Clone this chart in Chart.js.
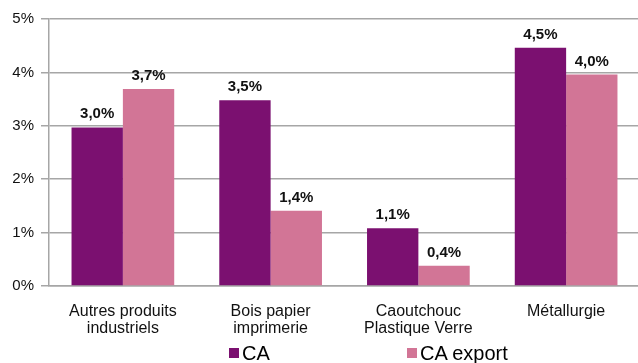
<!DOCTYPE html>
<html>
<head>
<meta charset="utf-8">
<script src="https://cdn.jsdelivr.net/npm/chart.js@4.4.1/dist/chart.umd.min.js"></script>
<style>
  html, body { margin:0; padding:0; background:#fff; width:638px; height:363px; overflow:hidden; }
  #wrap { position:absolute; left:0; top:0; width:642px; height:363px; }
  .leg { position:absolute; top:343px; font:20px "Liberation Sans", Arial, sans-serif; line-height:20px; color:#000; white-space:nowrap; }
  .leg i { position:absolute; width:10px; height:10px; top:5px; left:-13px; }
</style>
</head>
<body>
<div id="wrap"><canvas id="c"></canvas></div>
<div class="leg" style="left:242px"><i style="background:#7B1070"></i>CA</div>
<div class="leg" style="left:420px"><i style="background:#D27596"></i>CA export</div>
<script>
const categories = [["Autres produits","industriels"],["Bois papier","imprimerie"],["Caoutchouc","Plastique Verre"],["Métallurgie"]];
const seriesNames = ["CA","CA export"];
const caValues = [2.97, 3.48, 1.08, 4.46];
const caExportValues = [3.69, 1.41, 0.38, 3.96];
const yTicks = [0, 1, 2, 3, 4, 5];

const colors = ["#7B1070", "#D27596"];
const fmt = v => v.toFixed(1).replace('.', ',') + '%';

const valueLabels = {
  id: 'valueLabels',
  afterDatasetsDraw(chart) {
    const ctx = chart.ctx;
    ctx.save();
    ctx.font = 'bold 15px "Liberation Sans", Arial, sans-serif';
    ctx.fillStyle = '#111';
    ctx.textAlign = 'center';
    ctx.textBaseline = 'alphabetic';
    chart.data.datasets.forEach((ds, i) => {
      chart.getDatasetMeta(i).data.forEach((bar, j) => {
        ctx.fillText(fmt(ds.data[j]), bar.x, bar.y - 9);
      });
    });
    ctx.restore();
  }
};

new Chart(document.getElementById('c'), {
  type: 'bar',
  data: {
    labels: categories,
    datasets: [
      { label: seriesNames[0], data: caValues, backgroundColor: colors[0], borderWidth: 0 },
      { label: seriesNames[1], data: caExportValues, backgroundColor: colors[1], borderWidth: 0 }
    ]
  },
  options: {
    responsive: true,
    maintainAspectRatio: false,
    animation: false,
    layout: { padding: { top: 19, right: 2, left: 0, bottom: 0 } },
    plugins: { legend: { display: false }, tooltip: { enabled: false } },
    datasets: { bar: { barPercentage: 1, categoryPercentage: 0.695 } },
    scales: {
      x: {
        grid: { display: false },
        border: { display: true, color: '#A6A6A6', width: 1.5 },
        ticks: {
          color: '#111',
          padding: 9,
          font: { family: '"Liberation Sans", Arial, sans-serif', size: 16, lineHeight: 1.05 },
          maxRotation: 0, autoSkip: false
        },
        afterFit: s => { s.height = 77; }
      },
      y: {
        min: 0, max: 5,
        afterBuildTicks: s => { s.ticks = yTicks.map(v => ({ value: v })); },
        grid: { color: '#A6A6A6', lineWidth: 1.5, tickLength: 8, drawTicks: true },
        border: { display: true, color: '#A6A6A6', width: 1.5 },
        ticks: {
          color: '#111',
          padding: 7,
          font: { family: '"Liberation Sans", Arial, sans-serif', size: 15 },
          callback: v => v + '%'
        },
        afterFit: s => { s.width = 49; }
      }
    }
  },
  plugins: [valueLabels]
});
</script>
</body>
</html>
